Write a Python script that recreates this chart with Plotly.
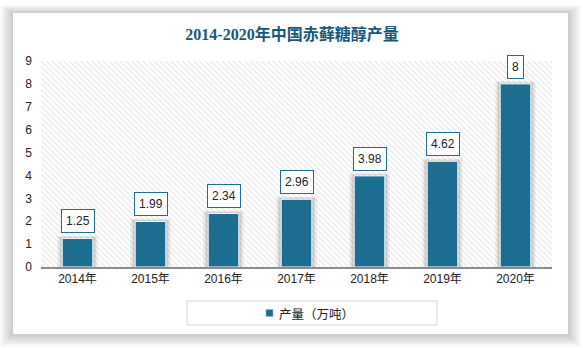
import plotly.graph_objects as go

years = ["2014年", "2015年", "2016年", "2017年", "2018年", "2019年", "2020年"]
output = [1.25, 1.99, 2.34, 2.96, 3.98, 4.62, 8]
series_name = "产量（万吨）"
title_text = "2014-2020年中国赤藓糖醇产量"
y_ticks = list(range(0, 10))

W, H = 583, 348
L, R, T, B = 41, 31, 61, 81
PW, PH = W - L - R, H - T - B

def px(x):
    return (x - L) / PW

def py(y):
    return (H - B - y) / PH

BAR = "#1c6d8f"
fig = go.Figure()

# hatched plot background on hidden base axes
fig.add_trace(go.Scatter(
    x=[0, 1, 1, 0, 0], y=[0, 0, 1, 1, 0], mode="lines", fill="toself",
    line=dict(width=0), fillcolor="white",
    fillpattern=dict(shape="\\", fgcolor="#cfcfcf", bgcolor="white", size=4, solidity=0.3),
    hoverinfo="skip", showlegend=False, xaxis="x", yaxis="y"))

# soft shadows for bars
for w, op, dy in [(0.56, 0.05, 0.12), (0.51, 0.07, 0.08), (0.47, 0.10, 0.04)]:
    fig.add_trace(go.Bar(
        x=years, y=[v + dy for v in output], width=w,
        marker=dict(color="rgba(0,0,0,%s)" % op, line=dict(width=0)),
        hoverinfo="skip", showlegend=False, xaxis="x2", yaxis="y2"))

fig.add_trace(go.Bar(
    x=years, y=output, name=series_name, width=0.42, showlegend=False,
    marker=dict(color=BAR, line=dict(color="white", width=1)),
    xaxis="x2", yaxis="y2"))

for yr, v in zip(years, output):
    fig.add_annotation(
        x=yr, y=v, xref="x2", yref="y2", text=f"{v:g}", showarrow=False,
        yanchor="bottom", yshift=5, bgcolor="white", bordercolor=BAR,
        borderwidth=1, borderpad=4,
        font=dict(size=12, color="#222", family="Liberation Sans, Noto Sans CJK SC"))

shapes = []
# card shadow
for i in range(13, 0, -1):
    shapes.append(dict(type="rect", xref="paper", yref="paper",
                       x0=px(13 - i), x1=px(568 + i), y0=py(334 + i), y1=py(13 - i * 0.6),
                       fillcolor="rgba(0,0,0,0.014)", line=dict(width=0), layer="below"))
shapes.append(dict(type="rect", xref="paper", yref="paper",
                   x0=px(13), x1=px(568), y0=py(334), y1=py(13),
                   fillcolor="white", line=dict(width=0), layer="below"))
# legend frame and swatch
shapes.append(dict(type="rect", xref="paper", yref="paper",
                   x0=px(187), x1=px(437), y0=py(325), y1=py(301),
                   fillcolor="rgba(0,0,0,0)", line=dict(color="#d4d4d4", width=1)))
shapes.append(dict(type="rect", xref="paper", yref="paper",
                   x0=px(266), x1=px(273), y0=py(316.5), y1=py(309.5),
                   fillcolor=BAR, line=dict(color="#9ab8c8", width=0.5)))
fig.update_layout(shapes=shapes)
fig.add_annotation(x=px(277), y=py(313), xref="paper", yref="paper", text=series_name,
                   showarrow=False, xanchor="left", yanchor="middle",
                   font=dict(size=12.5, color="#222", family="Noto Sans CJK SC"))

fig.update_layout(
    width=W, height=H, margin=dict(l=L, r=R, t=T, b=B),
    paper_bgcolor="white", plot_bgcolor="white",
    barmode="overlay",
    title=dict(text="<b>" + title_text + "</b>", x=px(292), xref="paper", xanchor="center",
               y=1 - 34 / H, yref="container", yanchor="middle",
               font=dict(size=16, color="#17587a", family="Liberation Serif, Noto Sans CJK SC")),
    xaxis=dict(range=[0, 1], visible=False, fixedrange=True),
    yaxis=dict(range=[0, 1], visible=False, fixedrange=True),
    xaxis2=dict(overlaying="x", type="category", showgrid=False, showline=True,
                linecolor="#8c8c8c", linewidth=1.5, ticks="", zeroline=False,
                tickfont=dict(size=12, color="#222", family="Liberation Sans, Noto Sans CJK SC")),
    yaxis2=dict(overlaying="y", range=[0, 9], tickvals=y_ticks, showgrid=False,
                showline=False, zeroline=False, ticks="", ticklabelstandoff=8,
                tickfont=dict(size=12, color="#222", family="Liberation Sans, Noto Sans CJK SC")),
    showlegend=False,
)

fig.write_html("out.html")
